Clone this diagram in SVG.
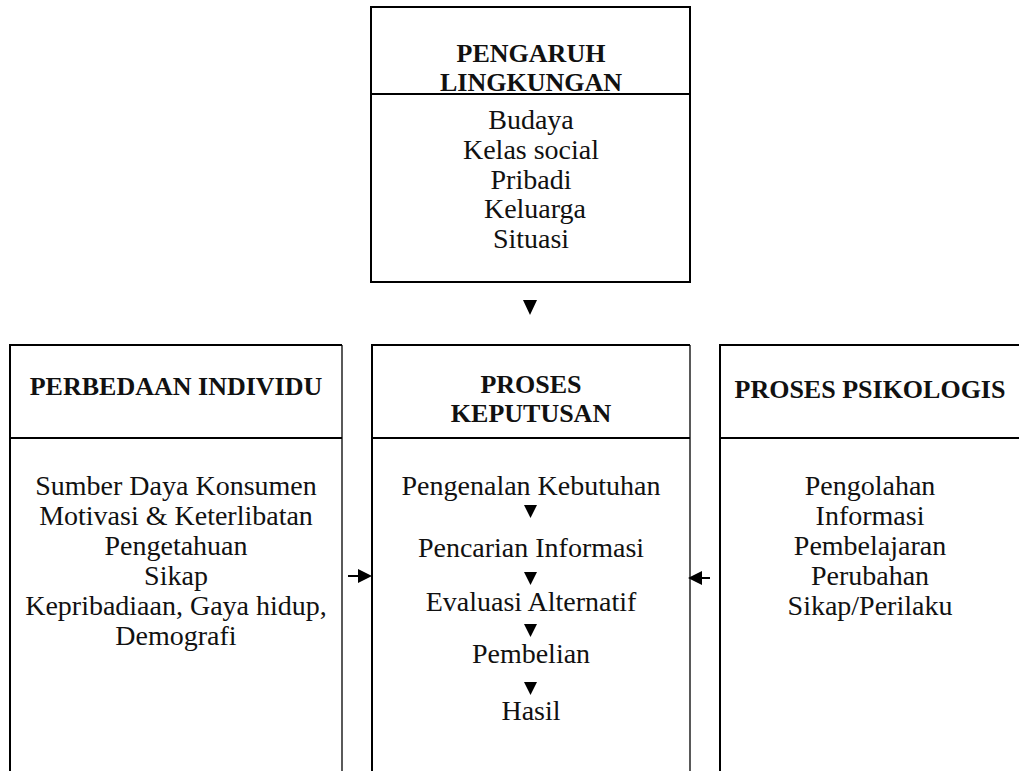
<svg xmlns="http://www.w3.org/2000/svg" width="1019" height="771" viewBox="0 0 1019 771">
<style>
.box{fill:none;stroke:#000;stroke-width:2}
.thin{fill:none;stroke:#000;stroke-width:1.3}
.h{font-family:"Liberation Serif",serif;font-weight:bold;font-size:26px;text-anchor:middle;fill:#111}
.t{font-family:"Liberation Serif",serif;font-size:28px;text-anchor:middle;fill:#111}
.ar{fill:#000}
.ln{stroke:#000;stroke-width:2}
</style>
<rect width="1019" height="771" fill="#fff"/>
<g id="lingkungan">
<path class="box" d="M371 7H690V282H371Z"/>
<line class="ln" x1="371" y1="94" x2="690" y2="94"/>
<text class="h" x="531" y="62">PENGARUH</text>
<text class="h" x="531" y="91">LINGKUNGAN</text>
<text class="t" x="531" y="129">Budaya</text>
<text class="t" x="531" y="159">Kelas social</text>
<text class="t" x="531" y="189">Pribadi</text>
<text class="t" x="535" y="218">Keluarga</text>
<text class="t" x="531" y="248">Situasi</text>
</g>
<g id="individu">
<path class="box" d="M10 771V345H342"/>
<line class="thin" x1="342" y1="345" x2="342" y2="771"/>
<line class="ln" x1="10" y1="438" x2="342" y2="438"/>
<text class="h" x="176" y="395">PERBEDAAN INDIVIDU</text>
<text class="t" x="176" y="495">Sumber Daya Konsumen</text>
<text class="t" x="176" y="525">Motivasi &amp; Keterlibatan</text>
<text class="t" x="176" y="555">Pengetahuan</text>
<text class="t" x="176" y="585">Sikap</text>
<text class="t" x="176" y="615">Kepribadiaan, Gaya hidup,</text>
<text class="t" x="176" y="645">Demografi</text>
</g>
<g id="keputusan">
<path class="box" d="M372 771V345H690"/>
<line class="thin" x1="690" y1="345" x2="690" y2="771"/>
<line class="ln" x1="372" y1="438" x2="690" y2="438"/>
<text class="h" x="531" y="393">PROSES</text>
<text class="h" x="531" y="422">KEPUTUSAN</text>
<text class="t" x="531" y="495">Pengenalan Kebutuhan</text>
<text class="t" x="531" y="557">Pencarian Informasi</text>
<text class="t" x="531" y="611">Evaluasi Alternatif</text>
<text class="t" x="531" y="663">Pembelian</text>
<text class="t" x="531" y="720">Hasil</text>
</g>
<g id="psikologis">
<path class="box" d="M720 771V345H1019"/>
<line class="ln" x1="720" y1="438" x2="1019" y2="438"/>
<text class="h" x="870" y="398">PROSES PSIKOLOGIS</text>
<text class="t" x="870" y="495">Pengolahan</text>
<text class="t" x="870" y="525">Informasi</text>
<text class="t" x="870" y="555">Pembelajaran</text>
<text class="t" x="870" y="585">Perubahan</text>
<text class="t" x="870" y="615">Sikap/Perilaku</text>
</g>
<g id="connectors">
<polygon class="ar" points="523,300 537,300 530,315"/>
<polygon class="ar" points="524,505 537,505 530.5,518"/>
<polygon class="ar" points="524,572 537,572 530.5,585"/>
<polygon class="ar" points="524,624 537,624 530.5,637"/>
<polygon class="ar" points="524,682 537,682 530.5,695"/>
<line class="ln" x1="348" y1="576" x2="360" y2="576"/>
<polygon class="ar" points="358,569 372,576 358,583"/>
<line class="ln" x1="698" y1="578" x2="710" y2="578"/>
<polygon class="ar" points="702,571 688,578 702,585"/>
</g>
</svg>
